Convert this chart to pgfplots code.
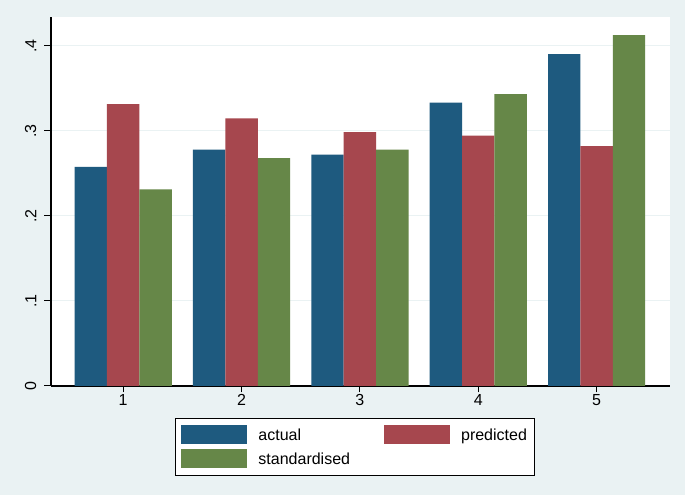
\documentclass[border=0pt]{standalone}
\usepackage{fontspec}
\setmainfont{Liberation Sans}
\usepackage{pgfplots}
\pgfplotsset{compat=1.18}
\definecolor{bg}{RGB}{234,242,243}
\definecolor{cblue}{RGB}{30,90,127}
\definecolor{cred}{RGB}{166,71,78}
\definecolor{cgreen}{RGB}{102,135,72}
\pgfplotsset{mylegend/.style={legend image code/.code={\fill[##1] (0pt,-9.5pt) rectangle (66pt,9.5pt);}}}
\begin{document}
\begin{tikzpicture}
\fill[bg] (0pt,0pt) rectangle (685pt,495pt);
\begin{axis}[
  at={(51pt,109pt)}, anchor=south west,
  scale only axis, width=619pt, height=369pt,
  xmin=0.39, xmax=5.62, ymin=0, ymax=0.434,
  axis background/.style={fill=white},
  axis x line*=bottom, axis y line*=left,
  axis line style={-, line width=1.2pt, black},
  tick align=outside, major tick length=6.5pt,
  tick style={black, line width=1pt},
  xtick={1,2,3,4,5},
  ytick={0,0.1,0.2,0.3,0.4}, yticklabels={0,.1,.2,.3,.4},
  /pgf/number format/assume math mode=true,
  ticklabel style={font=\fontsize{16}{16}\selectfont},
  yticklabel style={rotate=90, anchor=south, inner sep=8pt},
  xticklabel style={inner sep=2pt},
  ymajorgrids, grid style={color=bg, line width=1pt},
  ybar=0pt, bar width=32.4pt,
  legend style={at={(0.2003,-0.0867)}, anchor=north west, draw=black, line width=1pt,
    fill=white, font=\fontsize{16}{18}\selectfont, inner xsep=6pt, inner ysep=7pt,
    row sep=5pt,
    /tikz/every odd column/.append style={column sep=9pt},
    /tikz/every even column/.append style={column sep=32pt}},
  legend columns=2, legend cell align=left,
]
\addplot[fill=cblue, draw=none, mylegend] coordinates {(1,0.2576)(2,0.2780)(3,0.2721)(4,0.3333)(5,0.3902)};
\addplot[fill=cred, draw=none, mylegend] coordinates {(1,0.3314)(2,0.3149)(3,0.2985)(4,0.2945)(5,0.2820)};
\addplot[fill=cgreen, draw=none, mylegend] coordinates {(1,0.2314)(2,0.2679)(3,0.2779)(4,0.3432)(5,0.4126)};
\legend{actual, predicted, standardised}
\end{axis}
\end{tikzpicture}
\end{document}
